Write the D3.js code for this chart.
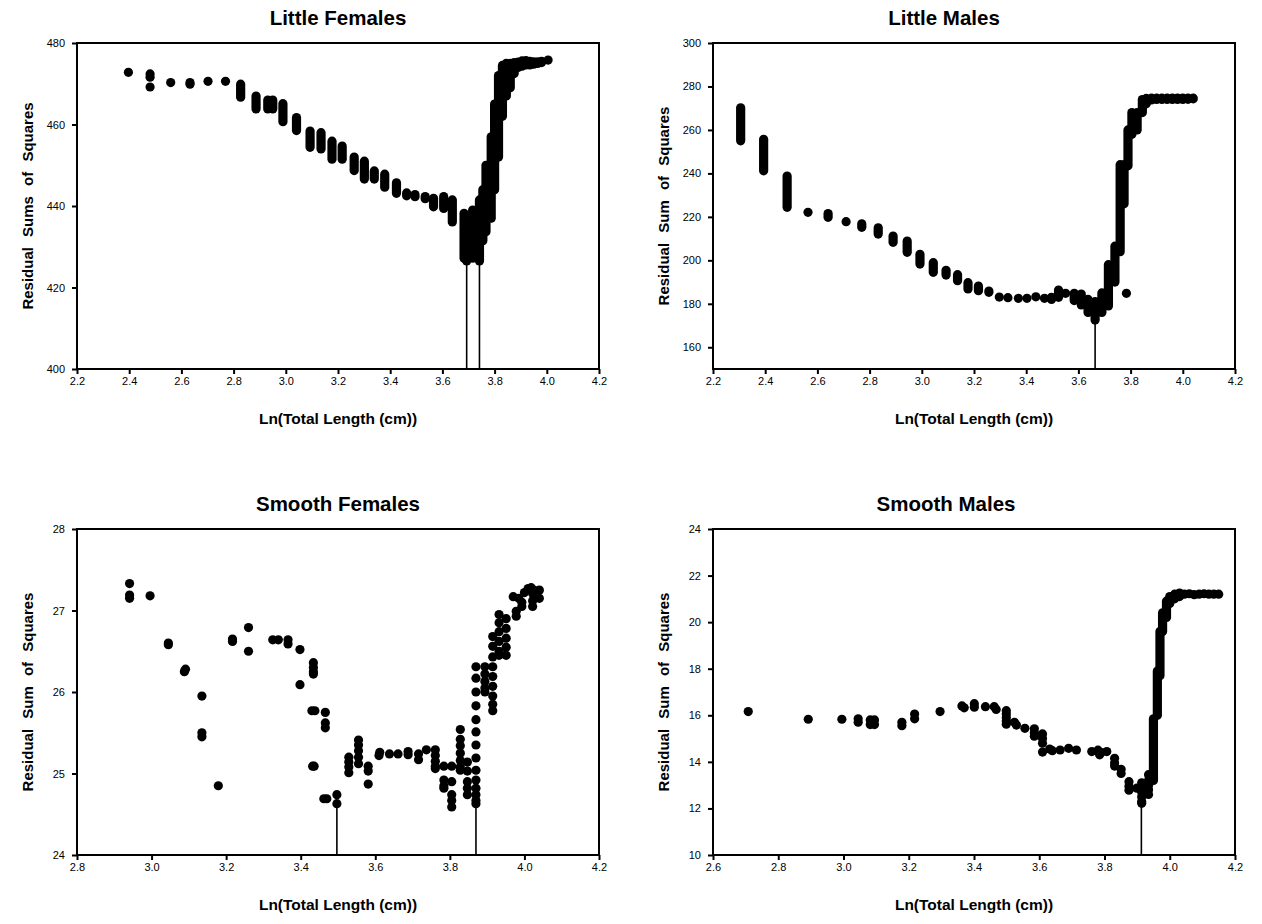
<!DOCTYPE html>
<html><head><meta charset="utf-8">
<script src="https://cdn.jsdelivr.net/npm/d3@7"></script>
<style>
body{margin:0;background:#fff;}
svg{display:block;font-family:Arial,'Liberation Sans',sans-serif;}
</style></head><body>
<svg id="chart" width="1262" height="924"></svg>
<script>
// ---------- Little Females ----------
const lfTicksX = [2.2,2.4,2.6,2.8,3.0,3.2,3.4,3.6,3.8,4.0,4.2];
const lfTicksY = [400,420,440,460,480];
const lfPoints = [[2.397,472.8],[2.48,472.4],[2.48,471.6],[2.48,469.2],[2.559,470.3],[2.633,470.3],[2.633,469.9],[2.702,470.6],[2.769,470.6],[4.005,475.8]];
const lfRanges = [[2.827,466.7,469.9],[2.886,463.8,467.0],[2.931,463.8,466.0],[2.950,463.8,466.0],[2.989,460.7,465.1],[3.041,458.5,461.7],[3.093,454.4,458.4],[3.135,454.0,458.0],[3.177,451.5,455.9],[3.216,451.5,454.7],[3.262,448.7,452.0],[3.301,446.6,451.0],[3.339,446.6,448.6],[3.379,444.6,447.8],[3.424,443.1,445.7],[3.463,442.5,443.2],[3.495,442.3,442.8],[3.534,441.8,442.3],[3.566,439.8,441.9],[3.605,439.4,442.3],[3.638,436.1,441.5],[3.683,427.2,438.2],[3.693,426.5,437.0],[3.716,427.2,439.0],[3.742,426.5,441.5],[3.755,431.5,444.0],[3.767,433.7,450.0],[3.787,437.0,457.0],[3.800,444.0,465.0],[3.815,452.0,472.0],[3.830,462.0,474.5],[3.845,467.0,475.0],[3.860,469.0,475.0],[3.875,472.5,475.2],[3.890,474.0,475.3],[3.905,474.3,475.6],[3.920,474.6,475.7],[3.935,474.6,475.5],[3.950,474.8,475.4],[3.965,475.0,475.4],[3.980,475.2,475.5]];
const lfDrops = [[3.693,426.5],[3.742,426.5]];

// ---------- Little Males ----------
const lmTicksX = [2.2,2.4,2.6,2.8,3.0,3.2,3.4,3.6,3.8,4.0,4.2];
const lmTicksY = [160,180,200,220,240,260,280,300];
const lmPoints = [[2.564,222.1],[2.710,217.8],[3.297,183.1],[3.330,182.8],[3.370,182.5],[3.403,182.5],[3.437,183.2],[3.470,182.5],[3.551,184.8],[3.784,184.8]];
const lmRanges = [[2.306,255.0,270.2],[2.394,241.2,255.7],[2.484,224.4,238.8],[2.641,219.8,221.5],[2.770,215.2,216.8],[2.833,212.1,215.0],[2.890,208.3,211.2],[2.944,203.7,208.9],[2.993,198.3,202.8],[3.044,194.5,198.9],[3.093,193.2,195.4],[3.137,190.6,193.4],[3.177,186.8,189.7],[3.217,186.0,188.2],[3.257,185.3,185.9],[3.497,182.0,183.0],[3.524,183.0,186.3],[3.584,181.5,184.8],[3.611,179.5,184.5],[3.637,176.0,182.0],[3.664,172.5,181.0],[3.690,176.0,185.0],[3.715,179.0,198.0],[3.740,190.0,206.5],[3.760,204.0,244.0],[3.775,226.0,244.0],[3.790,243.5,260.0],[3.805,258.0,268.0],[3.825,260.0,268.0],[3.845,268.0,274.0],[3.860,272.0,274.5],[3.880,273.8,274.6],[3.900,274.0,274.6],[3.920,274.0,274.6],[3.940,274.0,274.6],[3.960,274.0,274.7],[3.980,274.0,274.7],[4.000,274.0,274.7],[4.020,274.1,274.7],[4.040,274.3,274.6]];
const lmDrops = [[3.664,172.5]];

// ---------- Smooth Females ----------
const sfTicksX = [2.8,3.0,3.2,3.4,3.6,3.8,4.0,4.2];
const sfTicksY = [24,25,26,27,28];
const sfPoints = [[2.941,27.33],[2.941,27.19],[2.941,27.15],[2.996,27.18],[3.045,26.58],[3.045,26.60],[3.091,26.28],[3.088,26.25],[3.135,25.95],[3.135,25.50],[3.135,25.45],[3.179,24.85],[3.217,26.62],[3.217,26.65],[3.260,26.79],[3.260,26.50],[3.325,26.64],[3.340,26.64],[3.366,26.64],[3.366,26.59],[3.398,26.52],[3.398,26.09],[3.434,26.36],[3.434,26.30],[3.434,26.25],[3.434,26.22],[3.430,25.77],[3.438,25.77],[3.432,25.09],[3.436,25.09],[3.466,25.75],[3.466,25.62],[3.466,25.56],[3.462,24.69],[3.470,24.69],[3.497,24.74],[3.497,24.63],[3.529,25.20],[3.529,25.14],[3.529,25.08],[3.529,25.01],[3.555,25.41],[3.555,25.35],[3.555,25.28],[3.555,25.20],[3.555,25.12],[3.581,25.09],[3.581,25.03],[3.581,24.87],[3.610,25.22],[3.612,25.26],[3.638,25.24],[3.661,25.24],[3.688,25.23],[3.688,25.27],[3.716,25.24],[3.716,25.17],[3.737,25.29],[3.761,25.29],[3.761,25.22],[3.761,25.15],[3.761,25.09],[3.761,25.06],[3.784,25.09],[3.784,24.92],[3.784,24.85],[3.784,24.82],[3.805,25.09],[3.805,24.90],[3.805,24.74],[3.805,24.67],[3.805,24.59],[3.828,25.54],[3.828,25.42],[3.828,25.34],[3.828,25.25],[3.828,25.16],[3.828,25.08],[3.828,25.04],[3.847,25.14],[3.847,25.03],[3.847,24.90],[3.847,24.82],[3.847,24.74],[3.870,26.31],[3.870,26.17],[3.870,26.00],[3.870,25.83],[3.870,25.66],[3.870,25.51],[3.870,25.35],[3.870,25.19],[3.870,25.04],[3.870,24.92],[3.870,24.82],[3.870,24.74],[3.870,24.67],[3.870,24.63],[3.894,26.31],[3.894,26.22],[3.894,26.13],[3.894,26.05],[3.894,26.00],[3.915,26.68],[3.915,26.56],[3.915,26.43],[3.915,26.31],[3.915,26.19],[3.915,26.07],[3.915,25.95],[3.915,25.85],[3.915,25.77],[3.932,26.95],[3.932,26.85],[3.932,26.74],[3.932,26.62],[3.932,26.50],[3.932,26.45],[3.951,26.90],[3.951,26.78],[3.951,26.66],[3.951,26.55],[3.951,26.45],[3.970,27.17],[3.978,26.99],[3.978,26.93],[3.993,27.05],[3.993,27.10],[3.985,27.15],[4.000,27.22],[4.010,27.27],[4.018,27.28],[4.025,27.25],[4.022,27.21],[4.022,27.12],[4.022,27.05],[4.040,27.25],[4.040,27.15]];
const sfRanges = [];
const sfDrops = [[3.497,24.63],[3.870,24.63]];

// ---------- Smooth Males ----------
const smTicksX = [2.6,2.8,3.0,3.2,3.4,3.6,3.8,4.0,4.2];
const smTicksY = [10,12,14,16,18,20,22,24];
const smPoints = [[2.708,16.16],[2.892,15.83],[2.995,15.83],[3.045,15.85],[3.045,15.70],[3.082,15.80],[3.082,15.60],[3.095,15.80],[3.095,15.60],[3.179,15.70],[3.179,15.55],[3.218,16.05],[3.218,15.85],[3.296,16.16],[3.363,16.40],[3.370,16.32],[3.401,16.50],[3.401,16.35],[3.435,16.37],[3.462,16.37],[3.468,16.25],[3.499,16.20],[3.499,16.05],[3.499,15.90],[3.499,15.75],[3.499,15.62],[3.524,15.70],[3.530,15.58],[3.556,15.44],[3.585,15.42],[3.585,15.25],[3.585,15.10],[3.610,15.20],[3.610,15.00],[3.610,14.80],[3.610,14.42],[3.632,14.55],[3.640,14.48],[3.664,14.51],[3.690,14.58],[3.714,14.51],[3.761,14.44],[3.780,14.50],[3.785,14.30],[3.790,14.40],[3.807,14.44],[3.831,14.15],[3.831,13.95],[3.831,13.82],[3.851,13.68],[3.851,13.50],[3.875,13.15],[3.875,12.95],[3.875,12.78],[3.899,12.87],[3.914,13.10],[3.914,12.90],[3.914,12.70],[3.914,12.50],[3.914,12.30],[3.914,12.22],[3.935,13.45],[3.935,13.20],[3.935,13.00],[3.935,12.80],[3.935,12.60],[4.045,21.20],[4.060,21.22],[4.075,21.18],[4.090,21.20],[4.105,21.22],[4.120,21.20],[4.135,21.20],[4.150,21.20]];
const smRanges = [[3.950,13.2,15.85],[3.962,16.0,17.9],[3.970,17.7,19.6],[3.978,19.6,20.4],[3.990,20.2,20.9],[4.000,20.8,21.1],[4.015,21.0,21.2],[4.030,21.1,21.25]];
const smDrops = [[3.913,12.22]];

// ---------- layout ----------
const panels = [
  {title:'Little Females', yTitle:'Residual Sums of Squares', left:77, top:43, xDomain:[2.2,4.2], yDomain:[400,480], xt:lfTicksX, yt:lfTicksY, pts:lfPoints, rng:lfRanges, drops:lfDrops, titleY:25, titleDx:0},
  {title:'Little Males', yTitle:'Residual Sum of Squares', left:713, top:43, xDomain:[2.2,4.2], yDomain:[150,300], xt:lmTicksX, yt:lmTicksY, pts:lmPoints, rng:lmRanges, drops:lmDrops, titleY:25, titleDx:-30},
  {title:'Smooth Females', yTitle:'Residual Sum of Squares', left:77, top:529, xDomain:[2.8,4.2], yDomain:[24,28], xt:sfTicksX, yt:sfTicksY, pts:sfPoints, rng:sfRanges, drops:sfDrops, titleY:511, titleDx:0},
  {title:'Smooth Males', yTitle:'Residual Sum of Squares', left:713, top:529, xDomain:[2.6,4.2], yDomain:[10,24], xt:smTicksX, yt:smTicksY, pts:smPoints, rng:smRanges, drops:smDrops, titleY:511, titleDx:-28}
];
const W = 522, H = 326, R = 4.6;
const svg = d3.select('#chart');

panels.forEach(p => {
  const g = svg.append('g').attr('transform', `translate(${p.left},${p.top})`);
  const x = d3.scaleLinear().domain(p.xDomain).range([0, W]);
  const y = d3.scaleLinear().domain(p.yDomain).range([H, 0]);

  const xa = g.append('g').attr('transform', `translate(0,${H})`)
    .call(d3.axisBottom(x).tickValues(p.xt).tickFormat(d3.format('.1f')).tickSize(5).tickPadding(3));
  const ya = g.append('g')
    .call(d3.axisLeft(y).tickValues(p.yt).tickFormat(d3.format('d')).tickSize(5).tickPadding(7));
  [xa, ya].forEach(a => {
    a.select('.domain').remove();
    a.selectAll('line').attr('stroke', '#000').attr('stroke-width', 2);
    a.selectAll('text').attr('fill', '#000').style('font-size', '11px').style('font-family', 'Arial, "Liberation Sans", sans-serif');
  });

  // drop lines
  g.selectAll('line.drop').data(p.drops).enter().append('line')
    .attr('class', 'drop')
    .attr('x1', d => x(d[0])).attr('x2', d => x(d[0]))
    .attr('y1', d => y(d[1])).attr('y2', H)
    .attr('stroke', '#000').attr('stroke-width', 1.6);

  // ranges (stacked dots)
  g.selectAll('rect.rng').data(p.rng).enter().append('rect')
    .attr('class', 'rng')
    .attr('x', d => x(d[0]) - R).attr('width', 2 * R)
    .attr('y', d => y(d[2]) - R).attr('height', d => y(d[1]) - y(d[2]) + 2 * R)
    .attr('rx', R).attr('ry', R).attr('fill', '#000');

  // points
  g.selectAll('circle.pt').data(p.pts).enter().append('circle')
    .attr('class', 'pt')
    .attr('cx', d => x(d[0])).attr('cy', d => y(d[1])).attr('r', R).attr('fill', '#000');

  // frame
  g.append('rect').attr('x', 0).attr('y', 0).attr('width', W).attr('height', H)
    .attr('fill', 'none').attr('stroke', '#000').attr('stroke-width', 2);

  // titles
  g.append('text').attr('x', W / 2 + p.titleDx).attr('y', p.titleY - p.top)
    .attr('text-anchor', 'middle').style('font-size', '20.5px').style('font-weight', 'bold').text(p.title);
  g.append('text').attr('x', W / 2).attr('y', H + 55)
    .attr('text-anchor', 'middle').style('font-size', '15.5px').style('font-weight', 'bold').text('Ln(Total Length (cm))');
  g.append('text').attr('transform', `translate(-44,${H / 2}) rotate(-90)`)
    .attr('text-anchor', 'middle').style('font-size', '15px').style('font-weight', 'bold')
    .style('word-spacing', '6px').text(p.yTitle);
});
</script>
</body></html>
